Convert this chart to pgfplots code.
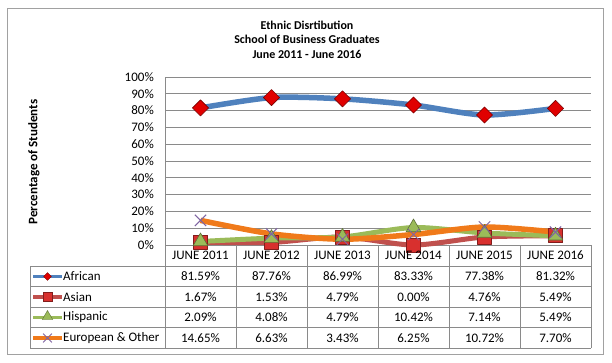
\documentclass[border=0pt]{standalone}
\usepackage{pgfplots}
\pgfplotsset{compat=1.18}
\usepackage{fontspec}
\setmainfont{Carlito}
\usetikzlibrary{shapes.geometric,shapes.misc}
\definecolor{afr}{HTML}{4F81BD}
\definecolor{asi}{HTML}{C0504D}
\definecolor{his}{HTML}{9BBB59}
\definecolor{eur}{HTML}{F07A1A}
\definecolor{xmk}{HTML}{7F64A2}
\definecolor{dia}{HTML}{E00000}
\definecolor{sqr}{HTML}{D8302E}
\definecolor{grd}{HTML}{8A8A8A}
\begin{document}
\begin{tikzpicture}
\useasboundingbox (0pt,0pt) rectangle (612pt,-362pt);
\fill[white] (0pt,0pt) rectangle (612pt,-362pt);
\draw[grd!80, line width=0.8pt] (7.5pt,-8.5pt) rectangle (603.5pt,-354pt);
\node[font=\fontsize{12}{14.5}\selectfont\bfseries, align=center] at (307pt,-39.5pt) {Ethnic Disrtibution\\School of Business Graduates\\June 2011 - June 2016};
\node[font=\fontsize{13}{15}\selectfont\bfseries, rotate=90] at (34pt,-162pt) {Percentage of Students};
\begin{axis}[at={(165pt,-245pt)}, anchor=south west, scale only axis, width=426pt, height=168pt,
  xmin=-0.5, xmax=5.5, ymin=0, ymax=100, clip=false,
  axis x line=none, axis y line=left, axis line style={-, grd, line width=0.8pt},
  xtick=\empty, ytick={0,10,...,100},
  yticklabels={0\%,10\%,20\%,30\%,40\%,50\%,60\%,70\%,80\%,90\%,100\%},
  major tick length=0pt,
  yticklabel style={font=\fontsize{13}{15}\selectfont, inner sep=0pt, xshift=-11pt},
  ymajorgrids, grid style={grd, line width=0.8pt},
  every axis plot/.append style={smooth, tension=0.45, line join=round},
]
\addplot[afr, line width=5.5pt, mark=square*, mark size=5.7pt, mark options={rotate=45, fill=dia, draw=dia!55!black, line width=0.6pt}]
  coordinates {(0,81.59)(1,87.76)(2,86.99)(3,83.33)(4,77.38)(5,81.32)};
\addplot[asi, line width=5pt, mark=square*, mark size=7pt, mark options={fill=sqr, draw=sqr!60!black, line width=0.6pt}]
  coordinates {(0,1.67)(1,1.53)(2,4.79)(3,0.00)(4,4.76)(5,5.49)};
\addplot[his, line width=5pt, mark=triangle*, mark size=8.5pt, mark options={fill=his, draw=his!60!black, line width=0.6pt}]
  coordinates {(0,2.09)(1,4.08)(2,4.79)(3,10.42)(4,7.14)(5,5.49)};
\addplot[eur, line width=5.5pt, mark=x, mark size=8pt, mark options={draw=xmk, line width=1pt}]
  coordinates {(0,14.65)(1,6.63)(2,3.43)(3,6.25)(4,10.72)(5,7.70)};
\end{axis}
% data table
\begin{scope}[grd, line width=0.8pt]
\foreach \y in {266,286.5,307,327.5,348} \draw (30pt,-\y pt) -- (591pt,-\y pt);
\draw (30pt,-266pt) -- (30pt,-348pt);
\foreach \x in {165,236,307,378,449,520,591} \draw (\x pt,-245pt) -- (\x pt,-348pt);
\end{scope}
\foreach \yr [count=\i from 0] in {2011,2012,2013,2014,2015,2016}
  \node[font=\fontsize{13}{15}\selectfont] at ({200.5pt+71pt*\i},-255.5pt) {JUNE \yr};
\foreach \a/\b/\c/\d [count=\i from 0] in {81.59\%/1.67\%/2.09\%/14.65\%, 87.76\%/1.53\%/4.08\%/6.63\%, 86.99\%/4.79\%/4.79\%/3.43\%, 83.33\%/0.00\%/10.42\%/6.25\%, 77.38\%/4.76\%/7.14\%/10.72\%, 81.32\%/5.49\%/5.49\%/7.70\%}{
  \node[font=\fontsize{13}{15}\selectfont] at ({200.5pt+71pt*\i},-276.5pt) {\a};
  \node[font=\fontsize{13}{15}\selectfont] at ({200.5pt+71pt*\i},-297pt) {\b};
  \node[font=\fontsize{13}{15}\selectfont] at ({200.5pt+71pt*\i},-317.5pt) {\c};
  \node[font=\fontsize{13}{15}\selectfont] at ({200.5pt+71pt*\i},-338pt) {\d};
}
% legend keys
\draw[afr, line width=3.5pt] (33pt,-276.5pt) -- (62pt,-276.5pt);
\node[diamond, fill=dia, draw=dia!55!black, line width=0.4pt, inner sep=0pt, minimum size=8pt] at (47.5pt,-276.5pt) {};
\draw[asi, line width=3.5pt] (33pt,-297pt) -- (62pt,-297pt);
\node[rectangle, fill=sqr, draw=sqr!60!black, line width=0.4pt, inner sep=0pt, minimum size=9pt] at (47.5pt,-297pt) {};
\draw[his, line width=3.5pt] (33pt,-317.5pt) -- (62pt,-317.5pt);
\node[regular polygon, regular polygon sides=3, fill=his, draw=his!60!black, line width=0.4pt, inner sep=0pt, minimum size=12pt] at (47.5pt,-316.5pt) {};
\draw[eur, line width=3.5pt] (33pt,-338pt) -- (62pt,-338pt);
\node[cross out, draw=xmk, line width=0.8pt, inner sep=0pt, minimum size=8pt] at (47.5pt,-338pt) {};
\foreach \t/\y in {African/276.5, Asian/297, Hispanic/317.5, European \& Other/338}
  \node[font=\fontsize{13}{15}\selectfont, anchor=west, inner sep=0pt] at (63pt,-\y pt) {\t};
\end{tikzpicture}
\end{document}
